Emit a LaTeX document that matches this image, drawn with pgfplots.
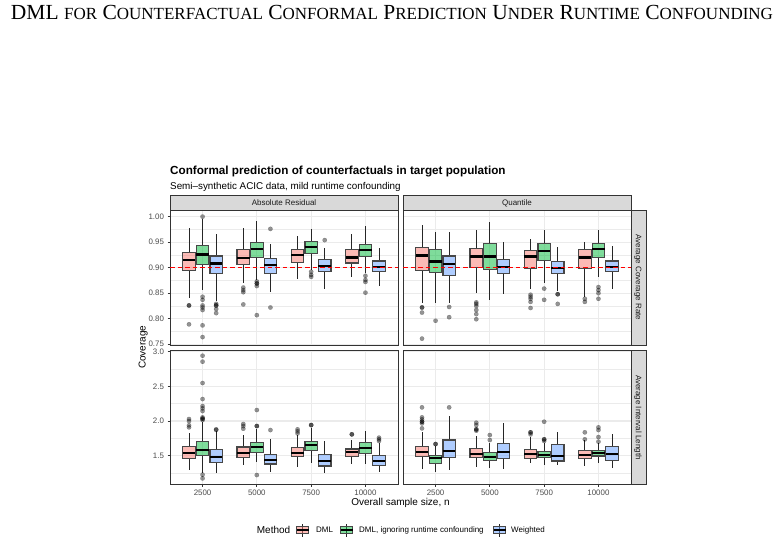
\documentclass[border=0pt]{standalone}
\usepackage{fontspec}
\setmainfont{Liberation Sans}
\newfontfamily\headserif{Liberation Serif}
\usepackage{pgfplots}
\pgfplotsset{compat=1.18}
\usepgfplotslibrary{statistics}

\definecolor{dmlc}{HTML}{F8766D}
\definecolor{ignc}{HTML}{00BA38}
\definecolor{wtc}{HTML}{619CFF}
\definecolor{nomred}{HTML}{FF0000}
\definecolor{grey92}{HTML}{EBEBEB}
\definecolor{grey85}{HTML}{D9D9D9}
\definecolor{grey20}{HTML}{333333}
\definecolor{grey30}{HTML}{4D4D4D}
\definecolor{grey10}{HTML}{1A1A1A}

\pgfplotsset{
  bxs/.style={
    solid, draw=black!85, line width=0.9pt,
    boxplot/draw direction=y,
    boxplot/box extend=0.23,
    boxplot/whisker extend=0,
    boxplot/every box/.style={draw=black!72, line width=1.2pt, fill=#1, fill opacity=0.5},
    boxplot/every median/.style={draw=black, line width=2.2pt},
    boxplot/every whisker/.style={draw=black!85, line width=0.9pt},
    mark=*, mark size=2.2pt,
    mark options={solid, draw=black, fill=black, opacity=0.42, line width=0.1pt},
  },
  panel/.style={
    scale only axis, width=228pt, anchor=south west,
    xmin=0.4, xmax=4.6, xtick={1,2,3,4},
    xmajorgrids, ymajorgrids, yminorgrids,
    major grid style={draw=grey92, line width=1.1pt},
    minor grid style={draw=grey92, line width=0.55pt},
    axis line style={draw=grey20, line width=0.9pt},
    tick align=outside, tick pos=left,
    major tick length=2.5pt, minor tick length=0pt,
    tick style={draw=grey20, line width=0.9pt},
    tick label style={font=\fontsize{7.9}{8}\selectfont, text=grey30},
    /pgf/number format/assume math mode=true,
    scaled y ticks=false,
  },
  coverage/.style={
    height=135pt, ymin=0.7485, ymax=1.013,
    ytick={0.75,0.80,0.85,0.90,0.95,1.00},
    minor ytick={0.775,0.825,0.875,0.925,0.975},
    yticklabel style={/pgf/number format/.cd, fixed, fixed zerofill, precision=2},
    xticklabels={}, xtick style={draw=none},
  },
  intlen/.style={
    height=133.6pt, ymin=1.0875, ymax=3.0145,
    ytick={1.5,2.0,2.5,3.0},
    minor ytick={1.25,1.75,2.25,2.75},
    yticklabel style={/pgf/number format/.cd, fixed, fixed zerofill, precision=1},
    xticklabels={2500,5000,7500,10000},
  },
  % transparent layer over a coverage panel carrying the nominal level
  nominallayer/.style={
    scale only axis, width=228pt, height=135pt, anchor=south west,
    xmin=0.4, xmax=4.6, ymin=0.7485, ymax=1.013, hide axis,
  },
}

% one box: style colour, position, lower whisker, Q1, median, Q3, upper whisker, outliers
\newcommand{\bx}[8]{%
  \addplot[bxs=#1, boxplot prepared={draw position=#2, lower whisker=#3,
    lower quartile=#4, median=#5, upper quartile=#6, upper whisker=#7}]
    table[row sep=\\, y index=0] {y\\ #8};}
% one box without outliers
\newcommand{\bn}[7]{%
  \addplot[bxs=#1, boxplot prepared={draw position=#2, lower whisker=#3,
    lower quartile=#4, median=#5, upper quartile=#6, upper whisker=#7}]
    coordinates {};}
% nominal coverage level 0.90
\newcommand{\nominal}{%
  \addplot[no markers, draw=nomred, line width=1.1pt, dash pattern=on 4.5pt off 3pt]
    table[row sep=\\] {x y\\ 0.4 0.9\\ 4.6 0.9\\};}

\newcommand{\smc}{\fontsize{17}{17}\selectfont}

\begin{document}
\begin{tikzpicture}
\fill[white] (0pt,0pt) rectangle (784pt,544pt);
\useasboundingbox (0pt,0pt) rectangle (784pt,544pt);

% running head
\node[anchor=base, inner sep=0pt, font=\headserif\fontsize{21.5}{21.5}\selectfont]
  at (392pt,524pt) {DML {\smc FOR} C{\smc OUNTERFACTUAL} C{\smc ONFORMAL} P{\smc REDICTION} U{\smc NDER} R{\smc UNTIME} C{\smc ONFOUNDING}};

% titles
\node[anchor=base west, inner sep=0pt, font=\bfseries\fontsize{11.7}{11.7}\selectfont]
  at (170pt,369.5pt) {Conformal prediction of counterfactuals in target population};
\node[anchor=base west, inner sep=0pt, font=\fontsize{9.85}{9.85}\selectfont]
  at (170pt,354.5pt) {Semi–synthetic ACIC data, mild runtime confounding};

% ---- Absolute Residual, coverage ----
\begin{axis}[panel, coverage, at={(170pt,199pt)}]
\bx{dmlc}{0.75}{0.840}{0.894}{0.915}{0.930}{0.978}{0.826\\0.826\\0.789\\}
\bx{ignc}{1.00}{0.856}{0.907}{0.926}{0.943}{0.995}{1.000\\0.843\\0.837\\0.826\\0.822\\0.817\\0.787\\0.764\\}
\bx{wtc}{1.25}{0.834}{0.888}{0.908}{0.923}{0.965}{0.829\\0.826\\0.826\\0.819\\0.811\\}
\bx{dmlc}{1.75}{0.869}{0.907}{0.919}{0.936}{0.977}{0.861\\0.856\\0.852\\0.828\\}
\bx{ignc}{2.00}{0.876}{0.920}{0.937}{0.949}{0.992}{0.873\\0.869\\0.869\\0.864\\0.807\\}
\bx{wtc}{2.25}{0.852}{0.889}{0.905}{0.918}{0.946}{0.976\\0.822\\}
\bn{dmlc}{2.75}{0.877}{0.910}{0.925}{0.935}{0.962}
\bx{ignc}{3.00}{0.896}{0.928}{0.941}{0.951}{0.975}{0.892\\0.886\\0.882\\}
\bx{wtc}{3.25}{0.858}{0.892}{0.903}{0.916}{0.938}{0.954\\}
\bn{dmlc}{3.75}{0.881}{0.909}{0.920}{0.935}{0.965}
\bx{ignc}{4.00}{0.889}{0.922}{0.934}{0.946}{0.982}{0.884\\0.876\\0.872\\0.851\\}
\bn{wtc}{4.25}{0.864}{0.892}{0.901}{0.913}{0.939}
\end{axis}
\begin{axis}[nominallayer, at={(170pt,199pt)}]
\nominal
\end{axis}

% ---- Quantile, coverage ----
\begin{axis}[panel, coverage, at={(403pt,199pt)}, yticklabels={}, ytick style={draw=none}]
\bx{dmlc}{0.75}{0.830}{0.895}{0.924}{0.940}{0.984}{0.822\\0.822\\0.812\\0.761\\}
\bx{ignc}{1.00}{0.831}{0.890}{0.912}{0.935}{0.969}{0.796\\}
\bx{wtc}{1.25}{0.830}{0.884}{0.907}{0.923}{0.969}{0.823\\0.803\\}
\bx{dmlc}{1.75}{0.850}{0.901}{0.922}{0.937}{0.973}{0.832\\0.829\\0.825\\0.817\\0.809\\0.799\\}
\bn{ignc}{2.00}{0.837}{0.896}{0.922}{0.948}{0.989}
\bn{wtc}{2.25}{0.848}{0.888}{0.901}{0.916}{0.951}
\bx{dmlc}{2.75}{0.859}{0.899}{0.922}{0.934}{0.957}{0.847\\0.843\\0.839\\0.833\\0.821\\}
\bx{ignc}{3.00}{0.869}{0.914}{0.933}{0.948}{0.973}{0.859\\0.837\\}
\bx{wtc}{3.25}{0.855}{0.889}{0.900}{0.912}{0.940}{0.848\\0.848\\0.829\\}
\bx{dmlc}{3.75}{0.842}{0.898}{0.920}{0.935}{0.951}{0.839\\0.833\\}
\bx{ignc}{4.00}{0.881}{0.920}{0.936}{0.948}{0.974}{0.862\\0.856\\0.850\\0.839\\}
\bn{wtc}{4.25}{0.859}{0.892}{0.902}{0.913}{0.943}
\end{axis}
\begin{axis}[nominallayer, at={(403pt,199pt)}]
\nominal
\end{axis}

% ---- Absolute Residual, interval length ----
\begin{axis}[panel, intlen, at={(170pt,59.7pt)}]
\bx{dmlc}{0.75}{1.293}{1.462}{1.534}{1.630}{1.832}{2.029\\2.000\\1.938\\1.909\\}
\bx{ignc}{1.00}{1.245}{1.505}{1.582}{1.707}{1.990}{2.942\\2.856\\2.548\\2.317\\2.216\\2.183\\2.144\\2.053\\2.034\\2.034\\2.014\\1.226\\1.173\\}
\bx{wtc}{1.25}{1.245}{1.404}{1.486}{1.591}{1.850}{1.880\\1.872\\}
\bx{dmlc}{1.75}{1.361}{1.476}{1.538}{1.625}{1.793}{1.957\\1.928\\1.889\\}
\bx{ignc}{2.00}{1.413}{1.548}{1.620}{1.688}{1.890}{2.159\\1.928\\1.928\\1.221\\}
\bx{wtc}{2.25}{1.260}{1.380}{1.438}{1.519}{1.745}{1.870\\}
\bx{dmlc}{2.75}{1.341}{1.486}{1.543}{1.615}{1.800}{1.880\\1.851\\1.822\\}
\bx{ignc}{3.00}{1.399}{1.572}{1.649}{1.707}{1.905}{1.942\\1.942\\}
\bn{wtc}{3.25}{1.255}{1.351}{1.418}{1.519}{1.712}
\bx{dmlc}{3.75}{1.380}{1.486}{1.548}{1.596}{1.726}{1.808\\1.808\\}
\bn{ignc}{4.00}{1.380}{1.534}{1.615}{1.688}{1.856}
\bx{wtc}{4.25}{1.264}{1.356}{1.428}{1.500}{1.678}{1.760\\1.736\\1.712\\}
\end{axis}

% ---- Quantile, interval length ----
\begin{axis}[panel, intlen, at={(403pt,59.7pt)}, yticklabels={}, ytick style={draw=none}]
\bx{dmlc}{0.75}{1.308}{1.486}{1.548}{1.635}{1.846}{2.197\\2.053\\2.024\\1.990\\1.990\\1.966\\1.894\\}
\bx{ignc}{1.00}{1.269}{1.389}{1.462}{1.500}{1.640}{1.668\\1.668\\}
\bx{wtc}{1.25}{1.293}{1.476}{1.572}{1.726}{2.072}{2.197\\}
\bx{dmlc}{1.75}{1.341}{1.471}{1.524}{1.606}{1.784}{1.976\\1.942\\1.880\\1.880\\1.861\\}
\bx{ignc}{2.00}{1.327}{1.428}{1.486}{1.543}{1.678}{1.798\\1.726\\}
\bn{wtc}{2.25}{1.303}{1.462}{1.553}{1.678}{1.966}
\bx{dmlc}{2.75}{1.389}{1.462}{1.524}{1.591}{1.774}{1.837\\1.837\\1.808\\}
\bx{ignc}{3.00}{1.361}{1.476}{1.514}{1.558}{1.678}{1.990\\1.736\\1.736\\1.712\\}
\bn{wtc}{3.25}{1.361}{1.423}{1.500}{1.663}{1.846}
\bx{dmlc}{3.75}{1.356}{1.462}{1.510}{1.577}{1.726}{1.837\\1.736\\}
\bx{ignc}{4.00}{1.389}{1.495}{1.534}{1.572}{1.690}{1.909\\1.870\\1.769\\1.702\\}
\bn{wtc}{4.25}{1.317}{1.428}{1.519}{1.630}{1.812}
\end{axis}

% facet strips
\begin{scope}[every node/.style={inner sep=0pt, font=\fontsize{8}{8}\selectfont, text=grey10}]
\draw[fill=grey85, draw=grey20, line width=0.9pt] (170pt,334pt) rectangle (398pt,348.4pt);
\node[anchor=base] at (284pt,338.3pt) {Absolute Residual};
\draw[fill=grey85, draw=grey20, line width=0.9pt] (403pt,334pt) rectangle (631pt,348.4pt);
\node[anchor=base] at (517pt,338.3pt) {Quantile};
\draw[fill=grey85, draw=grey20, line width=0.9pt] (631pt,199pt) rectangle (646.5pt,334pt);
\node[rotate=-90, anchor=base] at (635.9pt,266.5pt) {Average Coverage Rate};
\draw[fill=grey85, draw=grey20, line width=0.9pt] (631pt,59.7pt) rectangle (646.5pt,193.3pt);
\node[rotate=-90, anchor=base] at (635.9pt,126.5pt) {Average Interval Length};
\end{scope}

% axis titles
\node[rotate=90, anchor=base, inner sep=0pt, font=\fontsize{10}{10}\selectfont] at (145.5pt,196.8pt) {Coverage};
\node[anchor=base, inner sep=0pt, font=\fontsize{10}{10}\selectfont] at (400.5pt,38.5pt) {Overall sample size, n};

% legend
\node[anchor=base west, inner sep=0pt, font=\fontsize{10}{10}\selectfont] at (256.7pt,10.4pt) {Method};
\foreach \cx/\col in {302.5/dmlc, 346.5/ignc, 499.5/wtc}{
  \draw[black!85, line width=0.8pt] (\cx pt,7.5pt) -- (\cx pt,20.5pt);
  \filldraw[fill=\col, fill opacity=0.5, draw=black!72, line width=1.1pt] (\cx pt-6pt,10.5pt) rectangle (\cx pt+6pt,17.5pt);
  \draw[black, line width=1.6pt] (\cx pt-6pt,14pt) -- (\cx pt+6pt,14pt);
}
\begin{scope}[every node/.style={anchor=base west, inner sep=0pt, font=\fontsize{8}{8}\selectfont}]
\node at (316pt,11.1pt) {DML};
\node at (359pt,11.1pt) {DML, ignoring runtime confounding};
\node at (511pt,11.1pt) {Weighted};
\end{scope}
\end{tikzpicture}
\end{document}
